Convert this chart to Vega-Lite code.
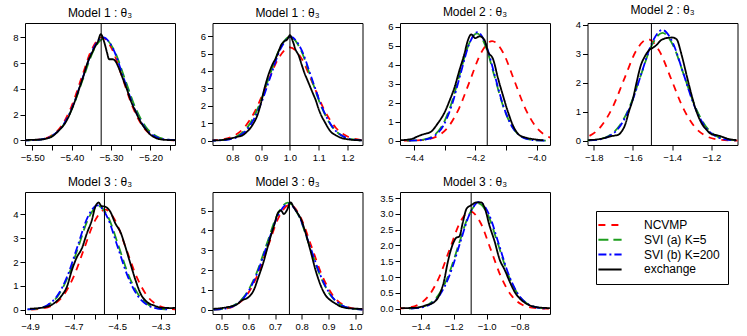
{
"$schema": "https://vega.github.io/schema/vega-lite/v6.json",
"padding": {"left": 12, "top": 3, "right": 5, "bottom": 5},
"background": "white",
"config": {
  "font": "Liberation Sans",
  "view": {"stroke": "black", "strokeWidth": 1},
  "axis": {"domain": false, "grid": false, "tickColor": "black", "tickSize": 5, "tickWidth": 1, "labelFontSize": 9.5, "labelColor": "black", "labelFont": "Liberation Sans", "labelOverlap": false, "labelFlush": false},
  "axisX": {"labelPadding": 2},
  "axisY": {"labelPadding": 2},
  "title": {"fontSize": 12, "fontWeight": "normal", "font": "Liberation Sans", "offset": 3, "color": "black"}
},
"columns": 4,
"spacing": {"row": 47, "column": 37.5},
"bounds": "flush",
"datasets": {
"truth": [{"p":1,"x":-5.325},{"p":2,"x":1.0},{"p":3,"x":-4.161},{"p":4,"x":-1.506},{"p":5,"x":-4.558},{"p":6,"x":0.754},{"p":7,"x":-1.094}],
"curves": [
{"p":1,"s":"a","x":-5.531,"y":0.002},{"p":1,"s":"a","x":-5.505,"y":0.018},{"p":1,"s":"a","x":-5.479,"y":0.089},{"p":1,"s":"a","x":-5.453,"y":0.351},{"p":1,"s":"a","x":-5.427,"y":1.082},{"p":1,"s":"a","x":-5.401,"y":2.598},{"p":1,"s":"a","x":-5.375,"y":4.852},{"p":1,"s":"a","x":-5.349,"y":7.06},{"p":1,"s":"a","x":-5.323,"y":8.0},{"p":1,"s":"a","x":-5.297,"y":7.06},{"p":1,"s":"a","x":-5.271,"y":4.852},{"p":1,"s":"a","x":-5.245,"y":2.598},{"p":1,"s":"a","x":-5.219,"y":1.082},{"p":1,"s":"a","x":-5.193,"y":0.351},{"p":1,"s":"a","x":-5.167,"y":0.089},{"p":1,"s":"a","x":-5.141,"y":0.018},{"p":1,"s":"a","x":-5.115,"y":0.002},
{"p":1,"s":"b","x":-5.530,"y":0.002},{"p":1,"s":"b","x":-5.5035,"y":0.017},{"p":1,"s":"b","x":-5.477,"y":0.088},{"p":1,"s":"b","x":-5.4505,"y":0.347},{"p":1,"s":"b","x":-5.424,"y":1.069},{"p":1,"s":"b","x":-5.3975,"y":2.565},{"p":1,"s":"b","x":-5.371,"y":4.791},{"p":1,"s":"b","x":-5.3445,"y":6.972},{"p":1,"s":"b","x":-5.318,"y":7.9},{"p":1,"s":"b","x":-5.2915,"y":6.972},{"p":1,"s":"b","x":-5.265,"y":4.791},{"p":1,"s":"b","x":-5.2385,"y":2.565},{"p":1,"s":"b","x":-5.212,"y":1.069},{"p":1,"s":"b","x":-5.1855,"y":0.347},{"p":1,"s":"b","x":-5.159,"y":0.088},{"p":1,"s":"b","x":-5.1325,"y":0.017},
{"p":1,"s":"c","x":-5.528,"y":0.002},{"p":1,"s":"c","x":-5.502,"y":0.018},{"p":1,"s":"c","x":-5.476,"y":0.089},{"p":1,"s":"c","x":-5.45,"y":0.351},{"p":1,"s":"c","x":-5.424,"y":1.082},{"p":1,"s":"c","x":-5.398,"y":2.598},{"p":1,"s":"c","x":-5.372,"y":4.852},{"p":1,"s":"c","x":-5.346,"y":7.06},{"p":1,"s":"c","x":-5.32,"y":8.0},{"p":1,"s":"c","x":-5.294,"y":7.06},{"p":1,"s":"c","x":-5.268,"y":4.852},{"p":1,"s":"c","x":-5.242,"y":2.598},{"p":1,"s":"c","x":-5.216,"y":1.082},{"p":1,"s":"c","x":-5.19,"y":0.351},{"p":1,"s":"c","x":-5.164,"y":0.089},{"p":1,"s":"c","x":-5.138,"y":0.018},
{"p":1,"s":"d","x":-5.525,"y":0.02},{"p":1,"s":"d","x":-5.50,"y":0.05},{"p":1,"s":"d","x":-5.48,"y":0.07},{"p":1,"s":"d","x":-5.46,"y":0.18},{"p":1,"s":"d","x":-5.45,"y":0.3},{"p":1,"s":"d","x":-5.44,"y":0.55},{"p":1,"s":"d","x":-5.43,"y":0.85},{"p":1,"s":"d","x":-5.42,"y":1.2},{"p":1,"s":"d","x":-5.41,"y":1.7},{"p":1,"s":"d","x":-5.40,"y":2.4},{"p":1,"s":"d","x":-5.39,"y":3.2},{"p":1,"s":"d","x":-5.38,"y":4.1},{"p":1,"s":"d","x":-5.37,"y":5.0},{"p":1,"s":"d","x":-5.36,"y":6.0},{"p":1,"s":"d","x":-5.35,"y":6.7},{"p":1,"s":"d","x":-5.34,"y":7.3},{"p":1,"s":"d","x":-5.333,"y":7.7},{"p":1,"s":"d","x":-5.326,"y":8.25},{"p":1,"s":"d","x":-5.318,"y":7.7},{"p":1,"s":"d","x":-5.31,"y":6.8},{"p":1,"s":"d","x":-5.305,"y":6.3},{"p":1,"s":"d","x":-5.296,"y":6.3},{"p":1,"s":"d","x":-5.29,"y":6.2},{"p":1,"s":"d","x":-5.28,"y":5.6},{"p":1,"s":"d","x":-5.27,"y":4.8},{"p":1,"s":"d","x":-5.26,"y":4.0},{"p":1,"s":"d","x":-5.25,"y":3.1},{"p":1,"s":"d","x":-5.24,"y":2.4},{"p":1,"s":"d","x":-5.23,"y":1.75},{"p":1,"s":"d","x":-5.22,"y":1.2},{"p":1,"s":"d","x":-5.21,"y":0.8},{"p":1,"s":"d","x":-5.20,"y":0.45},{"p":1,"s":"d","x":-5.19,"y":0.25},{"p":1,"s":"d","x":-5.18,"y":0.12},{"p":1,"s":"d","x":-5.17,"y":0.07},{"p":1,"s":"d","x":-5.15,"y":0.03},{"p":1,"s":"d","x":-5.135,"y":0.02},

{"p":2,"s":"a","x":0.68,"y":0.002},{"p":2,"s":"a","x":0.72,"y":0.012},{"p":2,"s":"a","x":0.76,"y":0.059},{"p":2,"s":"a","x":0.80,"y":0.235},{"p":2,"s":"a","x":0.84,"y":0.724},{"p":2,"s":"a","x":0.88,"y":1.737},{"p":2,"s":"a","x":0.92,"y":3.245},{"p":2,"s":"a","x":0.96,"y":4.721},{"p":2,"s":"a","x":1.0,"y":5.35},{"p":2,"s":"a","x":1.04,"y":4.721},{"p":2,"s":"a","x":1.08,"y":3.245},{"p":2,"s":"a","x":1.12,"y":1.737},{"p":2,"s":"a","x":1.16,"y":0.724},{"p":2,"s":"a","x":1.20,"y":0.235},{"p":2,"s":"a","x":1.24,"y":0.059},{"p":2,"s":"a","x":1.28,"y":0.012},
{"p":2,"s":"b","x":0.708,"y":0.002},{"p":2,"s":"b","x":0.7445,"y":0.013},{"p":2,"s":"b","x":0.781,"y":0.066},{"p":2,"s":"b","x":0.8175,"y":0.261},{"p":2,"s":"b","x":0.854,"y":0.805},{"p":2,"s":"b","x":0.8905,"y":1.932},{"p":2,"s":"b","x":0.927,"y":3.609},{"p":2,"s":"b","x":0.9635,"y":5.251},{"p":2,"s":"b","x":1.0,"y":5.95},{"p":2,"s":"b","x":1.0365,"y":5.251},{"p":2,"s":"b","x":1.073,"y":3.609},{"p":2,"s":"b","x":1.1095,"y":1.932},{"p":2,"s":"b","x":1.146,"y":0.805},{"p":2,"s":"b","x":1.1825,"y":0.261},{"p":2,"s":"b","x":1.219,"y":0.066},{"p":2,"s":"b","x":1.2555,"y":0.013},
{"p":2,"s":"c","x":0.715,"y":0.002},{"p":2,"s":"c","x":0.751,"y":0.013},{"p":2,"s":"c","x":0.787,"y":0.066},{"p":2,"s":"c","x":0.823,"y":0.261},{"p":2,"s":"c","x":0.859,"y":0.805},{"p":2,"s":"c","x":0.895,"y":1.932},{"p":2,"s":"c","x":0.931,"y":3.609},{"p":2,"s":"c","x":0.967,"y":5.251},{"p":2,"s":"c","x":1.003,"y":5.95},{"p":2,"s":"c","x":1.039,"y":5.251},{"p":2,"s":"c","x":1.075,"y":3.609},{"p":2,"s":"c","x":1.111,"y":1.932},{"p":2,"s":"c","x":1.147,"y":0.805},{"p":2,"s":"c","x":1.183,"y":0.261},{"p":2,"s":"c","x":1.219,"y":0.066},{"p":2,"s":"c","x":1.255,"y":0.013},
{"p":2,"s":"d","x":0.73,"y":0.01},{"p":2,"s":"d","x":0.75,"y":0.02},{"p":2,"s":"d","x":0.78,"y":0.08},{"p":2,"s":"d","x":0.80,"y":0.15},{"p":2,"s":"d","x":0.82,"y":0.23},{"p":2,"s":"d","x":0.835,"y":0.3},{"p":2,"s":"d","x":0.85,"y":0.5},{"p":2,"s":"d","x":0.87,"y":0.9},{"p":2,"s":"d","x":0.89,"y":1.6},{"p":2,"s":"d","x":0.90,"y":2.2},{"p":2,"s":"d","x":0.91,"y":2.9},{"p":2,"s":"d","x":0.92,"y":3.5},{"p":2,"s":"d","x":0.93,"y":4.0},{"p":2,"s":"d","x":0.94,"y":4.4},{"p":2,"s":"d","x":0.95,"y":4.7},{"p":2,"s":"d","x":0.96,"y":5.1},{"p":2,"s":"d","x":0.97,"y":5.5},{"p":2,"s":"d","x":0.98,"y":5.7},{"p":2,"s":"d","x":0.99,"y":5.8},{"p":2,"s":"d","x":1.0,"y":6.05},{"p":2,"s":"d","x":1.01,"y":5.7},{"p":2,"s":"d","x":1.02,"y":5.2},{"p":2,"s":"d","x":1.03,"y":4.9},{"p":2,"s":"d","x":1.04,"y":4.4},{"p":2,"s":"d","x":1.05,"y":3.9},{"p":2,"s":"d","x":1.06,"y":3.5},{"p":2,"s":"d","x":1.07,"y":3.1},{"p":2,"s":"d","x":1.08,"y":2.7},{"p":2,"s":"d","x":1.09,"y":2.3},{"p":2,"s":"d","x":1.10,"y":1.8},{"p":2,"s":"d","x":1.11,"y":1.4},{"p":2,"s":"d","x":1.12,"y":1.1},{"p":2,"s":"d","x":1.13,"y":0.8},{"p":2,"s":"d","x":1.14,"y":0.55},{"p":2,"s":"d","x":1.16,"y":0.3},{"p":2,"s":"d","x":1.18,"y":0.15},{"p":2,"s":"d","x":1.20,"y":0.08},{"p":2,"s":"d","x":1.22,"y":0.04},{"p":2,"s":"d","x":1.25,"y":0.02},

{"p":3,"s":"a","x":-4.433,"y":0.002},{"p":3,"s":"a","x":-4.397,"y":0.012},{"p":3,"s":"a","x":-4.361,"y":0.058},{"p":3,"s":"a","x":-4.325,"y":0.230},{"p":3,"s":"a","x":-4.289,"y":0.710},{"p":3,"s":"a","x":-4.253,"y":1.705},{"p":3,"s":"a","x":-4.217,"y":3.184},{"p":3,"s":"a","x":-4.181,"y":4.633},{"p":3,"s":"a","x":-4.145,"y":5.25},{"p":3,"s":"a","x":-4.109,"y":4.633},{"p":3,"s":"a","x":-4.073,"y":3.184},{"p":3,"s":"a","x":-4.037,"y":1.705},{"p":3,"s":"a","x":-4.001,"y":0.710},{"p":3,"s":"a","x":-3.965,"y":0.230},{"p":3,"s":"a","x":-3.929,"y":0.058},
{"p":3,"s":"b","x":-4.423,"y":0.002},{"p":3,"s":"b","x":-4.3945,"y":0.012},{"p":3,"s":"b","x":-4.366,"y":0.063},{"p":3,"s":"b","x":-4.3375,"y":0.248},{"p":3,"s":"b","x":-4.309,"y":0.764},{"p":3,"s":"b","x":-4.2805,"y":1.835},{"p":3,"s":"b","x":-4.252,"y":3.427},{"p":3,"s":"b","x":-4.2235,"y":4.986},{"p":3,"s":"b","x":-4.195,"y":5.65},{"p":3,"s":"b","x":-4.1665,"y":4.986},{"p":3,"s":"b","x":-4.138,"y":3.427},{"p":3,"s":"b","x":-4.1095,"y":1.835},{"p":3,"s":"b","x":-4.081,"y":0.764},{"p":3,"s":"b","x":-4.0525,"y":0.248},{"p":3,"s":"b","x":-4.024,"y":0.063},{"p":3,"s":"b","x":-3.9955,"y":0.012},{"p":3,"s":"b","x":-3.967,"y":0.002},
{"p":3,"s":"c","x":-4.417,"y":0.002},{"p":3,"s":"c","x":-4.389,"y":0.013},{"p":3,"s":"c","x":-4.361,"y":0.063},{"p":3,"s":"c","x":-4.333,"y":0.251},{"p":3,"s":"c","x":-4.305,"y":0.774},{"p":3,"s":"c","x":-4.277,"y":1.857},{"p":3,"s":"c","x":-4.249,"y":3.469},{"p":3,"s":"c","x":-4.221,"y":5.048},{"p":3,"s":"c","x":-4.193,"y":5.72},{"p":3,"s":"c","x":-4.165,"y":5.048},{"p":3,"s":"c","x":-4.137,"y":3.469},{"p":3,"s":"c","x":-4.109,"y":1.857},{"p":3,"s":"c","x":-4.081,"y":0.774},{"p":3,"s":"c","x":-4.053,"y":0.251},{"p":3,"s":"c","x":-4.025,"y":0.063},{"p":3,"s":"c","x":-3.997,"y":0.013},{"p":3,"s":"c","x":-3.969,"y":0.002},
{"p":3,"s":"d","x":-4.446,"y":0.02},{"p":3,"s":"d","x":-4.405,"y":0.1},{"p":3,"s":"d","x":-4.389,"y":0.22},{"p":3,"s":"d","x":-4.367,"y":0.35},{"p":3,"s":"d","x":-4.345,"y":0.47},{"p":3,"s":"d","x":-4.323,"y":0.9},{"p":3,"s":"d","x":-4.30,"y":1.5},{"p":3,"s":"d","x":-4.285,"y":2.07},{"p":3,"s":"d","x":-4.268,"y":2.8},{"p":3,"s":"d","x":-4.252,"y":3.7},{"p":3,"s":"d","x":-4.236,"y":4.55},{"p":3,"s":"d","x":-4.225,"y":5.25},{"p":3,"s":"d","x":-4.2135,"y":5.6},{"p":3,"s":"d","x":-4.2,"y":5.4},{"p":3,"s":"d","x":-4.186,"y":5.5},{"p":3,"s":"d","x":-4.17,"y":5.3},{"p":3,"s":"d","x":-4.159,"y":4.7},{"p":3,"s":"d","x":-4.142,"y":4.3},{"p":3,"s":"d","x":-4.126,"y":3.3},{"p":3,"s":"d","x":-4.11,"y":2.4},{"p":3,"s":"d","x":-4.093,"y":1.5},{"p":3,"s":"d","x":-4.077,"y":0.8},{"p":3,"s":"d","x":-4.06,"y":0.35},{"p":3,"s":"d","x":-4.044,"y":0.2},{"p":3,"s":"d","x":-4.033,"y":0.15},{"p":3,"s":"d","x":-4.011,"y":0.08},{"p":3,"s":"d","x":-3.978,"y":0.02},

{"p":4,"s":"a","x":-1.885,"y":0.039},{"p":4,"s":"a","x":-1.825,"y":0.154},{"p":4,"s":"a","x":-1.765,"y":0.474},{"p":4,"s":"a","x":-1.705,"y":1.136},{"p":4,"s":"a","x":-1.645,"y":2.123},{"p":4,"s":"a","x":-1.585,"y":3.089},{"p":4,"s":"a","x":-1.525,"y":3.5},{"p":4,"s":"a","x":-1.465,"y":3.089},{"p":4,"s":"a","x":-1.405,"y":2.123},{"p":4,"s":"a","x":-1.345,"y":1.136},{"p":4,"s":"a","x":-1.285,"y":0.474},{"p":4,"s":"a","x":-1.225,"y":0.154},{"p":4,"s":"a","x":-1.165,"y":0.039},{"p":4,"s":"a","x":-1.105,"y":0.008},{"p":4,"s":"a","x":-1.045,"y":0.001},
{"p":4,"s":"b","x":-1.835,"y":0.008},{"p":4,"s":"b","x":-1.78,"y":0.041},{"p":4,"s":"b","x":-1.725,"y":0.163},{"p":4,"s":"b","x":-1.67,"y":0.503},{"p":4,"s":"b","x":-1.615,"y":1.208},{"p":4,"s":"b","x":-1.56,"y":2.256},{"p":4,"s":"b","x":-1.505,"y":3.283},{"p":4,"s":"b","x":-1.45,"y":3.72},{"p":4,"s":"b","x":-1.395,"y":3.283},{"p":4,"s":"b","x":-1.34,"y":2.256},{"p":4,"s":"b","x":-1.285,"y":1.208},{"p":4,"s":"b","x":-1.23,"y":0.503},{"p":4,"s":"b","x":-1.175,"y":0.163},{"p":4,"s":"b","x":-1.12,"y":0.041},{"p":4,"s":"b","x":-1.065,"y":0.008},
{"p":4,"s":"c","x":-1.8245,"y":0.008},{"p":4,"s":"c","x":-1.771,"y":0.042},{"p":4,"s":"c","x":-1.7175,"y":0.168},{"p":4,"s":"c","x":-1.664,"y":0.517},{"p":4,"s":"c","x":-1.6105,"y":1.240},{"p":4,"s":"c","x":-1.557,"y":2.317},{"p":4,"s":"c","x":-1.5035,"y":3.371},{"p":4,"s":"c","x":-1.45,"y":3.82},{"p":4,"s":"c","x":-1.3965,"y":3.371},{"p":4,"s":"c","x":-1.343,"y":2.317},{"p":4,"s":"c","x":-1.2895,"y":1.240},{"p":4,"s":"c","x":-1.236,"y":0.517},{"p":4,"s":"c","x":-1.1825,"y":0.168},{"p":4,"s":"c","x":-1.129,"y":0.042},{"p":4,"s":"c","x":-1.0755,"y":0.008},
{"p":4,"s":"d","x":-1.83,"y":0.02},{"p":4,"s":"d","x":-1.80,"y":0.03},{"p":4,"s":"d","x":-1.7525,"y":0.08},{"p":4,"s":"d","x":-1.72,"y":0.14},{"p":4,"s":"d","x":-1.69,"y":0.18},{"p":4,"s":"d","x":-1.676,"y":0.2},{"p":4,"s":"d","x":-1.66,"y":0.3},{"p":4,"s":"d","x":-1.64,"y":0.55},{"p":4,"s":"d","x":-1.621,"y":1.0},{"p":4,"s":"d","x":-1.60,"y":1.45},{"p":4,"s":"d","x":-1.582,"y":2.0},{"p":4,"s":"d","x":-1.56,"y":2.6},{"p":4,"s":"d","x":-1.54,"y":2.9},{"p":4,"s":"d","x":-1.514,"y":3.15},{"p":4,"s":"d","x":-1.50,"y":3.2},{"p":4,"s":"d","x":-1.48,"y":3.3},{"p":4,"s":"d","x":-1.46,"y":3.45},{"p":4,"s":"d","x":-1.44,"y":3.52},{"p":4,"s":"d","x":-1.42,"y":3.55},{"p":4,"s":"d","x":-1.40,"y":3.56},{"p":4,"s":"d","x":-1.378,"y":3.5},{"p":4,"s":"d","x":-1.3525,"y":2.97},{"p":4,"s":"d","x":-1.327,"y":2.27},{"p":4,"s":"d","x":-1.301,"y":1.57},{"p":4,"s":"d","x":-1.276,"y":1.0},{"p":4,"s":"d","x":-1.25,"y":0.6},{"p":4,"s":"d","x":-1.224,"y":0.37},{"p":4,"s":"d","x":-1.199,"y":0.22},{"p":4,"s":"d","x":-1.173,"y":0.19},{"p":4,"s":"d","x":-1.148,"y":0.14},{"p":4,"s":"d","x":-1.114,"y":0.06},{"p":4,"s":"d","x":-1.072,"y":0.02},

{"p":5,"s":"a","x":-4.8945,"y":0.009},{"p":5,"s":"a","x":-4.846,"y":0.047},{"p":5,"s":"a","x":-4.7975,"y":0.184},{"p":5,"s":"a","x":-4.749,"y":0.568},{"p":5,"s":"a","x":-4.7005,"y":1.364},{"p":5,"s":"a","x":-4.652,"y":2.547},{"p":5,"s":"a","x":-4.6035,"y":3.707},{"p":5,"s":"a","x":-4.555,"y":4.2},{"p":5,"s":"a","x":-4.5065,"y":3.707},{"p":5,"s":"a","x":-4.458,"y":2.547},{"p":5,"s":"a","x":-4.4095,"y":1.364},{"p":5,"s":"a","x":-4.361,"y":0.568},{"p":5,"s":"a","x":-4.3125,"y":0.184},{"p":5,"s":"a","x":-4.264,"y":0.047},{"p":5,"s":"a","x":-4.2155,"y":0.009},
{"p":5,"s":"b","x":-4.9105,"y":0.010},{"p":5,"s":"b","x":-4.864,"y":0.048},{"p":5,"s":"b","x":-4.8175,"y":0.191},{"p":5,"s":"b","x":-4.771,"y":0.589},{"p":5,"s":"b","x":-4.7245,"y":1.412},{"p":5,"s":"b","x":-4.678,"y":2.638},{"p":5,"s":"b","x":-4.6315,"y":3.839},{"p":5,"s":"b","x":-4.585,"y":4.35},{"p":5,"s":"b","x":-4.5385,"y":3.839},{"p":5,"s":"b","x":-4.492,"y":2.638},{"p":5,"s":"b","x":-4.4455,"y":1.412},{"p":5,"s":"b","x":-4.399,"y":0.589},{"p":5,"s":"b","x":-4.3525,"y":0.191},{"p":5,"s":"b","x":-4.306,"y":0.048},{"p":5,"s":"b","x":-4.2595,"y":0.010},
{"p":5,"s":"c","x":-4.912,"y":0.010},{"p":5,"s":"c","x":-4.866,"y":0.049},{"p":5,"s":"c","x":-4.82,"y":0.192},{"p":5,"s":"c","x":-4.774,"y":0.593},{"p":5,"s":"c","x":-4.728,"y":1.422},{"p":5,"s":"c","x":-4.682,"y":2.656},{"p":5,"s":"c","x":-4.636,"y":3.865},{"p":5,"s":"c","x":-4.59,"y":4.38},{"p":5,"s":"c","x":-4.544,"y":3.865},{"p":5,"s":"c","x":-4.498,"y":2.656},{"p":5,"s":"c","x":-4.452,"y":1.422},{"p":5,"s":"c","x":-4.406,"y":0.593},{"p":5,"s":"c","x":-4.36,"y":0.192},{"p":5,"s":"c","x":-4.314,"y":0.049},{"p":5,"s":"c","x":-4.268,"y":0.010},
{"p":5,"s":"d","x":-4.9,"y":0.04},{"p":5,"s":"d","x":-4.831,"y":0.11},{"p":5,"s":"d","x":-4.7925,"y":0.25},{"p":5,"s":"d","x":-4.754,"y":0.6},{"p":5,"s":"d","x":-4.731,"y":0.95},{"p":5,"s":"d","x":-4.708,"y":1.65},{"p":5,"s":"d","x":-4.685,"y":2.2},{"p":5,"s":"d","x":-4.662,"y":2.57},{"p":5,"s":"d","x":-4.639,"y":3.2},{"p":5,"s":"d","x":-4.616,"y":3.76},{"p":5,"s":"d","x":-4.6,"y":4.32},{"p":5,"s":"d","x":-4.585,"y":4.5},{"p":5,"s":"d","x":-4.572,"y":4.35},{"p":5,"s":"d","x":-4.554,"y":4.32},{"p":5,"s":"d","x":-4.531,"y":4.11},{"p":5,"s":"d","x":-4.508,"y":3.62},{"p":5,"s":"d","x":-4.485,"y":3.27},{"p":5,"s":"d","x":-4.462,"y":2.64},{"p":5,"s":"d","x":-4.439,"y":1.94},{"p":5,"s":"d","x":-4.415,"y":1.23},{"p":5,"s":"d","x":-4.392,"y":0.67},{"p":5,"s":"d","x":-4.362,"y":0.32},{"p":5,"s":"d","x":-4.331,"y":0.18},{"p":5,"s":"d","x":-4.293,"y":0.08},{"p":5,"s":"d","x":-4.247,"y":0.07},{"p":5,"s":"d","x":-4.234,"y":0.08},

{"p":6,"s":"a","x":0.4715,"y":0.012},{"p":6,"s":"a","x":0.512,"y":0.059},{"p":6,"s":"a","x":0.5525,"y":0.233},{"p":6,"s":"a","x":0.593,"y":0.717},{"p":6,"s":"a","x":0.6335,"y":1.721},{"p":6,"s":"a","x":0.674,"y":3.214},{"p":6,"s":"a","x":0.7145,"y":4.677},{"p":6,"s":"a","x":0.755,"y":5.3},{"p":6,"s":"a","x":0.7955,"y":4.677},{"p":6,"s":"a","x":0.836,"y":3.214},{"p":6,"s":"a","x":0.8765,"y":1.721},{"p":6,"s":"a","x":0.917,"y":0.717},{"p":6,"s":"a","x":0.9575,"y":0.233},{"p":6,"s":"a","x":0.998,"y":0.059},{"p":6,"s":"a","x":1.0385,"y":0.012},
{"p":6,"s":"b","x":0.468,"y":0.012},{"p":6,"s":"b","x":0.508,"y":0.060},{"p":6,"s":"b","x":0.548,"y":0.237},{"p":6,"s":"b","x":0.588,"y":0.731},{"p":6,"s":"b","x":0.628,"y":1.753},{"p":6,"s":"b","x":0.668,"y":3.275},{"p":6,"s":"b","x":0.708,"y":4.766},{"p":6,"s":"b","x":0.748,"y":5.4},{"p":6,"s":"b","x":0.788,"y":4.766},{"p":6,"s":"b","x":0.828,"y":3.275},{"p":6,"s":"b","x":0.868,"y":1.753},{"p":6,"s":"b","x":0.908,"y":0.731},{"p":6,"s":"b","x":0.948,"y":0.237},{"p":6,"s":"b","x":0.988,"y":0.060},{"p":6,"s":"b","x":1.028,"y":0.012},
{"p":6,"s":"c","x":0.47,"y":0.012},{"p":6,"s":"c","x":0.51,"y":0.059},{"p":6,"s":"c","x":0.55,"y":0.235},{"p":6,"s":"c","x":0.59,"y":0.724},{"p":6,"s":"c","x":0.63,"y":1.737},{"p":6,"s":"c","x":0.67,"y":3.245},{"p":6,"s":"c","x":0.71,"y":4.721},{"p":6,"s":"c","x":0.75,"y":5.35},{"p":6,"s":"c","x":0.79,"y":4.721},{"p":6,"s":"c","x":0.83,"y":3.245},{"p":6,"s":"c","x":0.87,"y":1.737},{"p":6,"s":"c","x":0.91,"y":0.724},{"p":6,"s":"c","x":0.95,"y":0.235},{"p":6,"s":"c","x":0.99,"y":0.059},{"p":6,"s":"c","x":1.03,"y":0.012},
{"p":6,"s":"d","x":0.469,"y":0.05},{"p":6,"s":"d","x":0.519,"y":0.13},{"p":6,"s":"d","x":0.557,"y":0.27},{"p":6,"s":"d","x":0.575,"y":0.47},{"p":6,"s":"d","x":0.601,"y":0.64},{"p":6,"s":"d","x":0.62,"y":0.98},{"p":6,"s":"d","x":0.638,"y":1.65},{"p":6,"s":"d","x":0.657,"y":2.41},{"p":6,"s":"d","x":0.676,"y":3.34},{"p":6,"s":"d","x":0.695,"y":4.19},{"p":6,"s":"d","x":0.714,"y":4.95},{"p":6,"s":"d","x":0.723,"y":5.0},{"p":6,"s":"d","x":0.733,"y":4.83},{"p":6,"s":"d","x":0.745,"y":5.03},{"p":6,"s":"d","x":0.758,"y":5.42},{"p":6,"s":"d","x":0.77,"y":5.17},{"p":6,"s":"d","x":0.783,"y":4.9},{"p":6,"s":"d","x":0.796,"y":4.61},{"p":6,"s":"d","x":0.815,"y":3.85},{"p":6,"s":"d","x":0.834,"y":2.92},{"p":6,"s":"d","x":0.852,"y":1.99},{"p":6,"s":"d","x":0.871,"y":1.23},{"p":6,"s":"d","x":0.89,"y":0.72},{"p":6,"s":"d","x":0.909,"y":0.47},{"p":6,"s":"d","x":0.928,"y":0.30},{"p":6,"s":"d","x":0.953,"y":0.13},{"p":6,"s":"d","x":0.985,"y":0.07},{"p":6,"s":"d","x":1.028,"y":0.05},

{"p":7,"s":"a","x":-1.5375,"y":0.007},{"p":7,"s":"a","x":-1.475,"y":0.034},{"p":7,"s":"a","x":-1.4125,"y":0.135},{"p":7,"s":"a","x":-1.35,"y":0.417},{"p":7,"s":"a","x":-1.2875,"y":1.0},{"p":7,"s":"a","x":-1.225,"y":1.868},{"p":7,"s":"a","x":-1.1625,"y":2.718},{"p":7,"s":"a","x":-1.1,"y":3.08},{"p":7,"s":"a","x":-1.0375,"y":2.718},{"p":7,"s":"a","x":-0.975,"y":1.868},{"p":7,"s":"a","x":-0.9125,"y":1.0},{"p":7,"s":"a","x":-0.85,"y":0.417},{"p":7,"s":"a","x":-0.7875,"y":0.135},{"p":7,"s":"a","x":-0.725,"y":0.034},{"p":7,"s":"a","x":-0.6625,"y":0.007},{"p":7,"s":"a","x":-0.6,"y":0.001},
{"p":7,"s":"b","x":-1.47,"y":0.007},{"p":7,"s":"b","x":-1.41,"y":0.037},{"p":7,"s":"b","x":-1.35,"y":0.146},{"p":7,"s":"b","x":-1.29,"y":0.451},{"p":7,"s":"b","x":-1.23,"y":1.081},{"p":7,"s":"b","x":-1.17,"y":2.02},{"p":7,"s":"b","x":-1.11,"y":2.939},{"p":7,"s":"b","x":-1.05,"y":3.33},{"p":7,"s":"b","x":-0.99,"y":2.939},{"p":7,"s":"b","x":-0.93,"y":2.02},{"p":7,"s":"b","x":-0.87,"y":1.081},{"p":7,"s":"b","x":-0.81,"y":0.451},{"p":7,"s":"b","x":-0.75,"y":0.146},{"p":7,"s":"b","x":-0.69,"y":0.037},{"p":7,"s":"b","x":-0.63,"y":0.007},
{"p":7,"s":"c","x":-1.458,"y":0.007},{"p":7,"s":"c","x":-1.399,"y":0.038},{"p":7,"s":"c","x":-1.34,"y":0.148},{"p":7,"s":"c","x":-1.281,"y":0.457},{"p":7,"s":"c","x":-1.222,"y":1.097},{"p":7,"s":"c","x":-1.163,"y":2.05},{"p":7,"s":"c","x":-1.104,"y":2.983},{"p":7,"s":"c","x":-1.045,"y":3.38},{"p":7,"s":"c","x":-0.986,"y":2.983},{"p":7,"s":"c","x":-0.927,"y":2.05},{"p":7,"s":"c","x":-0.868,"y":1.097},{"p":7,"s":"c","x":-0.809,"y":0.457},{"p":7,"s":"c","x":-0.75,"y":0.148},{"p":7,"s":"c","x":-0.691,"y":0.038},{"p":7,"s":"c","x":-0.632,"y":0.007},
{"p":7,"s":"d","x":-1.521,"y":0.02},{"p":7,"s":"d","x":-1.429,"y":0.03},{"p":7,"s":"d","x":-1.368,"y":0.11},{"p":7,"s":"d","x":-1.318,"y":0.21},{"p":7,"s":"d","x":-1.287,"y":0.43},{"p":7,"s":"d","x":-1.257,"y":0.91},{"p":7,"s":"d","x":-1.237,"y":1.44},{"p":7,"s":"d","x":-1.206,"y":2.03},{"p":7,"s":"d","x":-1.185,"y":2.24},{"p":7,"s":"d","x":-1.165,"y":2.29},{"p":7,"s":"d","x":-1.145,"y":2.72},{"p":7,"s":"d","x":-1.121,"y":3.17},{"p":7,"s":"d","x":-1.094,"y":3.27},{"p":7,"s":"d","x":-1.063,"y":3.36},{"p":7,"s":"d","x":-1.033,"y":3.36},{"p":7,"s":"d","x":-1.013,"y":3.2},{"p":7,"s":"d","x":-0.982,"y":2.61},{"p":7,"s":"d","x":-0.952,"y":2.13},{"p":7,"s":"d","x":-0.921,"y":1.55},{"p":7,"s":"d","x":-0.891,"y":1.23},{"p":7,"s":"d","x":-0.86,"y":0.85},{"p":7,"s":"d","x":-0.83,"y":0.53},{"p":7,"s":"d","x":-0.799,"y":0.32},{"p":7,"s":"d","x":-0.759,"y":0.16},{"p":7,"s":"d","x":-0.698,"y":0.05},{"p":7,"s":"d","x":-0.617,"y":0.02}
]
},
"concat": [
{"title": "Model 1 :  θ₃", "width": 150, "height": 122, "layer": [
 {"data": {"name": "curves"}, "transform": [{"filter": "datum.p == 1"}], "mark": {"type": "line", "clip": true, "strokeWidth": 1.8, "interpolate": "monotone"},
  "encoding": {
   "x": {"field": "x", "type": "quantitative", "scale": {"domain": [-5.5185, -5.1375], "nice": false, "zero": false}, "axis": {"title": null, "labelOverlap": false, "values": [-5.5,-5.45,-5.4,-5.35,-5.3,-5.25,-5.2,-5.15], "format": ".2f", "labelExpr": "round(abs(datum.value)*100) % 10 == 0 ? datum.label : ''"}},
   "y": {"field": "y", "type": "quantitative", "scale": {"domain": [-0.35, 9.11], "nice": false, "zero": false}, "axis": {"title": null, "labelOverlap": false, "values": [0,2,4,6,8], "format": "d"}},
   "color": {"field": "s", "type": "nominal", "scale": {"domain": ["a","b","c","d"], "range": ["#FF0000","#1E9E1E","#0000FF","#000000"]},
     "legend": {"title": null, "orient": "none", "legendX": 571, "legendY": 188, "strokeColor": "black", "fillColor": "white", "padding": 8, "symbolType": "M-2.9,0H2.9", "symbolSize": 64, "symbolStrokeWidth": 2, "labelFontSize": 12, "labelFont": "Liberation Sans", "labelColor": "black", "labelOffset": 28, "rowPadding": 2.8, "labelExpr": "datum.label == 'a' ? 'NCVMP' : datum.label == 'b' ? 'SVI (a) K=5' : datum.label == 'c' ? 'SVI (b) K=200' : 'exchange'"}},
   "strokeDash": {"field": "s", "type": "nominal", "scale": {"domain": ["a","b","c","d"], "range": [[7,6],[10,5],[8,3,2,3],[1,0]]}}
  }},
 {"data": {"name": "truth"}, "transform": [{"filter": "datum.p == 1"}], "mark": {"type": "rule", "color": "black", "strokeWidth": 1}, "encoding": {"x": {"field": "x", "type": "quantitative", "axis": {"title": null, "labelOverlap": false, "values": [-5.5,-5.45,-5.4,-5.35,-5.3,-5.25,-5.2,-5.15], "format": ".2f", "labelExpr": "round(abs(datum.value)*100) % 10 == 0 ? datum.label : ''"}}}}
]},
{"title": "Model 1 :  θ₃", "width": 150, "height": 122, "layer": [
 {"data": {"name": "curves"}, "transform": [{"filter": "datum.p == 2"}], "mark": {"type": "line", "clip": true, "strokeWidth": 1.8, "interpolate": "monotone"},
  "encoding": {
   "x": {"field": "x", "type": "quantitative", "scale": {"domain": [0.731, 1.252], "nice": false, "zero": false}, "axis": {"title": null, "labelOverlap": false, "values": [0.8,0.9,1.0,1.1,1.2], "format": ".1f"}},
   "y": {"field": "y", "type": "quantitative", "scale": {"domain": [-0.25, 6.75], "nice": false, "zero": false}, "axis": {"title": null, "labelOverlap": false, "values": [0,1,2,3,4,5,6], "format": "d"}},
   "color": {"field": "s", "type": "nominal"},
   "strokeDash": {"field": "s", "type": "nominal"}
  }},
 {"data": {"name": "truth"}, "transform": [{"filter": "datum.p == 2"}], "mark": {"type": "rule", "color": "black", "strokeWidth": 1}, "encoding": {"x": {"field": "x", "type": "quantitative", "axis": {"title": null, "labelOverlap": false, "values": [0.8,0.9,1.0,1.1,1.2], "format": ".1f"}}}}
]},
{"title": "Model 2 :  θ₃", "width": 150, "height": 122, "layer": [
 {"data": {"name": "curves"}, "transform": [{"filter": "datum.p == 3"}], "mark": {"type": "line", "clip": true, "strokeWidth": 1.8, "interpolate": "monotone"},
  "encoding": {
   "x": {"field": "x", "type": "quantitative", "scale": {"domain": [-4.446, -3.956], "nice": false, "zero": false}, "axis": {"title": null, "labelOverlap": false, "values": [-4.4,-4.3,-4.2,-4.1,-4.0], "format": ".1f", "labelExpr": "round(abs(datum.value)*10) % 2 == 0 ? datum.label : ''"}},
   "y": {"field": "y", "type": "quantitative", "scale": {"domain": [-0.23, 6.2], "nice": false, "zero": false}, "axis": {"title": null, "labelOverlap": false, "values": [0,1,2,3,4,5,6], "format": "d"}},
   "color": {"field": "s", "type": "nominal"},
   "strokeDash": {"field": "s", "type": "nominal"}
  }},
 {"data": {"name": "truth"}, "transform": [{"filter": "datum.p == 3"}], "mark": {"type": "rule", "color": "black", "strokeWidth": 1}, "encoding": {"x": {"field": "x", "type": "quantitative", "axis": {"title": null, "labelOverlap": false, "values": [-4.4,-4.3,-4.2,-4.1,-4.0], "format": ".1f", "labelExpr": "round(abs(datum.value)*10) % 2 == 0 ? datum.label : ''"}}}}
]},
{"title": "Model 2 :  θ₃", "width": 150, "height": 122, "layer": [
 {"data": {"name": "curves"}, "transform": [{"filter": "datum.p == 4"}], "mark": {"type": "line", "clip": true, "strokeWidth": 1.8, "interpolate": "monotone"},
  "encoding": {
   "x": {"field": "x", "type": "quantitative", "scale": {"domain": [-1.832, -1.067], "nice": false, "zero": false}, "axis": {"title": null, "labelOverlap": false, "values": [-1.8,-1.6,-1.4,-1.2,-1.0], "format": ".1f"}},
   "y": {"field": "y", "type": "quantitative", "scale": {"domain": [-0.15, 4.06], "nice": false, "zero": false}, "axis": {"title": null, "labelOverlap": false, "values": [0,1,2,3,4], "format": "d"}},
   "color": {"field": "s", "type": "nominal"},
   "strokeDash": {"field": "s", "type": "nominal"}
  }},
 {"data": {"name": "truth"}, "transform": [{"filter": "datum.p == 4"}], "mark": {"type": "rule", "color": "black", "strokeWidth": 1}, "encoding": {"x": {"field": "x", "type": "quantitative", "axis": {"title": null, "labelOverlap": false, "values": [-1.8,-1.6,-1.4,-1.2,-1.0], "format": ".1f"}}}}
]},
{"title": "Model 3 :  θ₃", "width": 150, "height": 122, "layer": [
 {"data": {"name": "curves"}, "transform": [{"filter": "datum.p == 5"}], "mark": {"type": "line", "clip": true, "strokeWidth": 1.8, "interpolate": "monotone"},
  "encoding": {
   "x": {"field": "x", "type": "quantitative", "scale": {"domain": [-4.923, -4.234], "nice": false, "zero": false}, "axis": {"title": null, "labelOverlap": false, "values": [-4.9,-4.8,-4.7,-4.6,-4.5,-4.4,-4.3], "format": ".1f", "labelExpr": "round(abs(datum.value)*10) % 2 == 1 ? datum.label : ''"}},
   "y": {"field": "y", "type": "quantitative", "scale": {"domain": [-0.18, 4.94], "nice": false, "zero": false}, "axis": {"title": null, "labelOverlap": false, "values": [0,1,2,3,4], "format": "d"}},
   "color": {"field": "s", "type": "nominal"},
   "strokeDash": {"field": "s", "type": "nominal"}
  }},
 {"data": {"name": "truth"}, "transform": [{"filter": "datum.p == 5"}], "mark": {"type": "rule", "color": "black", "strokeWidth": 1}, "encoding": {"x": {"field": "x", "type": "quantitative", "axis": {"title": null, "labelOverlap": false, "values": [-4.9,-4.8,-4.7,-4.6,-4.5,-4.4,-4.3], "format": ".1f", "labelExpr": "round(abs(datum.value)*10) % 2 == 1 ? datum.label : ''"}}}}
]},
{"title": "Model 3 :  θ₃", "width": 150, "height": 122, "layer": [
 {"data": {"name": "curves"}, "transform": [{"filter": "datum.p == 6"}], "mark": {"type": "line", "clip": true, "strokeWidth": 1.8, "interpolate": "monotone"},
  "encoding": {
   "x": {"field": "x", "type": "quantitative", "scale": {"domain": [0.466, 1.0275], "nice": false, "zero": false}, "axis": {"title": null, "labelOverlap": false, "values": [0.5,0.6,0.7,0.8,0.9,1.0], "format": ".1f"}},
   "y": {"field": "y", "type": "quantitative", "scale": {"domain": [-0.21, 5.94], "nice": false, "zero": false}, "axis": {"title": null, "labelOverlap": false, "values": [0,1,2,3,4,5], "format": "d"}},
   "color": {"field": "s", "type": "nominal"},
   "strokeDash": {"field": "s", "type": "nominal"}
  }},
 {"data": {"name": "truth"}, "transform": [{"filter": "datum.p == 6"}], "mark": {"type": "rule", "color": "black", "strokeWidth": 1}, "encoding": {"x": {"field": "x", "type": "quantitative", "axis": {"title": null, "labelOverlap": false, "values": [0.5,0.6,0.7,0.8,0.9,1.0], "format": ".1f"}}}}
]},
{"title": "Model 3 :  θ₃", "width": 150, "height": 122, "layer": [
 {"data": {"name": "curves"}, "transform": [{"filter": "datum.p == 7"}], "mark": {"type": "line", "clip": true, "strokeWidth": 1.8, "interpolate": "monotone"},
  "encoding": {
   "x": {"field": "x", "type": "quantitative", "scale": {"domain": [-1.525, -0.6165], "nice": false, "zero": false}, "axis": {"title": null, "labelOverlap": false, "values": [-1.4,-1.2,-1.0,-0.8], "format": ".1f"}},
   "y": {"field": "y", "type": "quantitative", "scale": {"domain": [-0.166, 3.69], "nice": false, "zero": false}, "axis": {"title": null, "labelOverlap": false, "values": [0,0.5,1,1.5,2,2.5,3,3.5], "format": ".1f"}},
   "color": {"field": "s", "type": "nominal"},
   "strokeDash": {"field": "s", "type": "nominal"}
  }},
 {"data": {"name": "truth"}, "transform": [{"filter": "datum.p == 7"}], "mark": {"type": "rule", "color": "black", "strokeWidth": 1}, "encoding": {"x": {"field": "x", "type": "quantitative", "axis": {"title": null, "labelOverlap": false, "values": [-1.4,-1.2,-1.0,-0.8], "format": ".1f"}}}}
]}
]
}
